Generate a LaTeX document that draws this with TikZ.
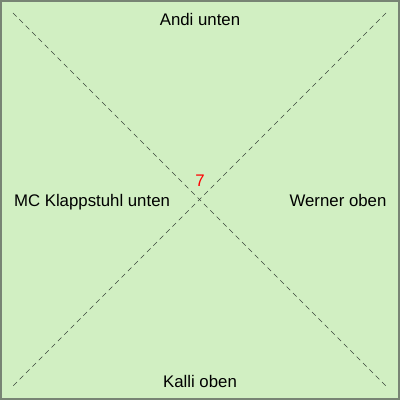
\documentclass[tikz,border=0pt]{standalone}
\usepackage{fontspec}
\setmainfont{Liberation Sans}
\definecolor{bgfill}{RGB}{209,239,194}
\definecolor{bordergray}{RGB}{120,132,116}
\definecolor{dashgray}{RGB}{60,70,60}
\tikzset{
  lbl/.style={font=\fontsize{16.8}{20}\selectfont, text=black, inner sep=0pt},
  diag/.style={draw=dashgray, dash pattern=on 5pt off 4pt, line width=0.7pt}
}
\begin{document}
\begin{tikzpicture}[x=1pt,y=1pt]
\useasboundingbox (0,0) rectangle (400,400);
\draw[fill=bgfill, draw=bordergray, line width=2pt] (1,1) rectangle (399,399);
\coordinate (tl) at (13,387);
\coordinate (br) at (386,14);
\coordinate (tr) at (386,387);
\coordinate (bl) at (13,14);
\draw[diag] (tl) -- (br);
\draw[diag] (tr) -- (bl);
\node[lbl] (andi) at (200,381) {Andi unten};
\node[lbl] (kalli) at (200,19) {Kalli oben};
\node[lbl] (mc) at (92,198) {MC Klappstuhl unten};
\node[lbl] (werner) at (338,200) {Werner oben};
\node[lbl, text=red] (seven) at (200,219) {7};
\end{tikzpicture}
\end{document}
